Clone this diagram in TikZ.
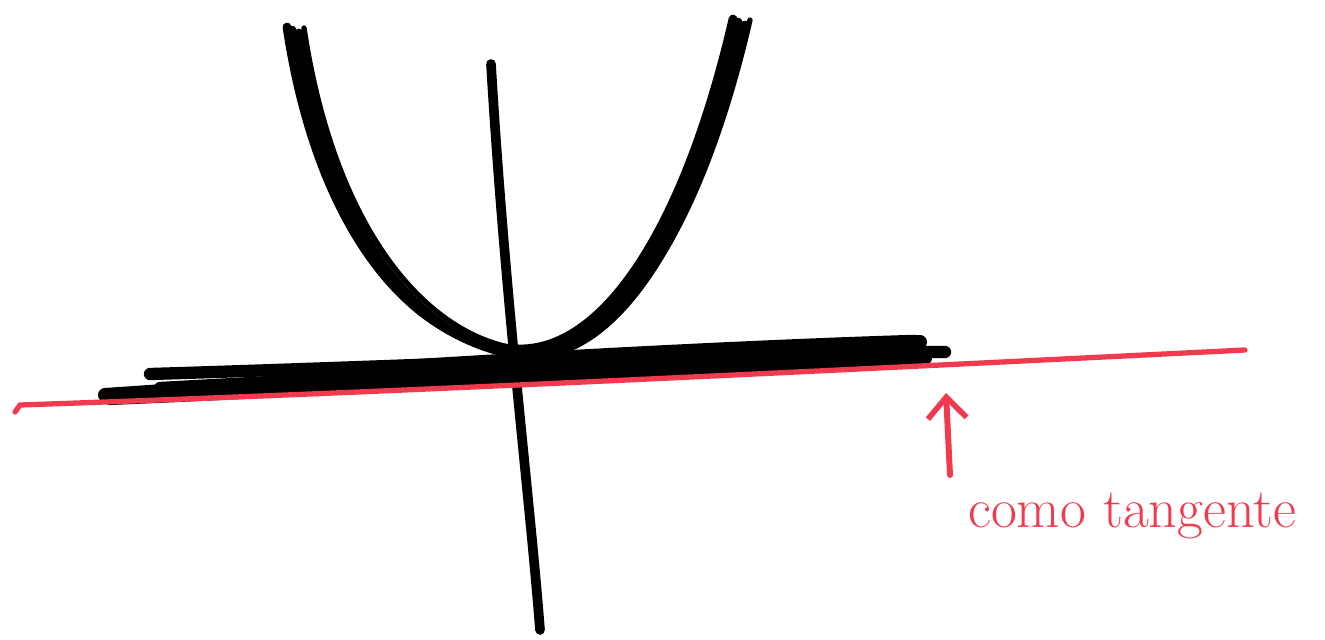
\documentclass[tikz,border=0pt]{standalone}
\usepackage{tikz}
\usepackage{xcolor}
\usetikzlibrary{arrows.meta}
\definecolor{penred}{RGB}{240,58,78}
\newcommand{\bowl}[2]% shift x, shift y
{(292+#1,30+#2) .. controls (325+#1,250+#2) and (430+#1,352+#2) .. (525+#1,352+#2)
 .. controls (610+#1,352+#2) and (690+#1,230+#2) .. (738+#1,22+#2)
}

\begin{document}
\begin{tikzpicture}[x=0.02cm,y=-0.02cm,
  ink/.style={line width=5pt,line cap=round,black},
  redpen/.style={line width=3.4pt,line cap=round,penred}]
\useasboundingbox (0,0) rectangle (1325,639);

% parabola, several strokes
\draw[ink] \bowl{0}{0};
\draw[ink] \bowl{7}{3};
\draw[ink] \bowl{-5}{-3};
\draw[ink,line width=3pt] \bowl{12}{-2};

% vertical axis
\draw[line width=5.5pt,line cap=round] (491,64) .. controls (505,300) and (530,500) .. (540,630);

% horizontal band
\draw[ink,line width=8pt] (105,395) .. controls (400,375) and (700,355) .. (920,342);
\draw[ink,line width=7pt] (150,374) .. controls (450,365) and (700,352) .. (945,352);
\draw[ink,line width=8pt] (110,398) .. controls (420,385) and (700,365) .. (925,358);
\draw[ink,line width=7pt] (160,388) .. controls (450,372) and (700,360) .. (900,350);
\draw[ink,line width=6pt] (300,372) .. controls (500,358) and (750,345) .. (915,340);

% tangent line
\draw[redpen,line width=3pt] (15,412) -- (20,405) .. controls (400,392) and (800,372) .. (1245,350);

% label and arrow
\coordinate (tail) at (950,475);
\coordinate (tip) at (946,393);
\draw[redpen,-{Straight Barb[length=12pt,width=22pt,line width=3.2pt]}] (tail) -- (tip);
\node[anchor=base west,inner sep=0pt,text=penred,font=\fontsize{32}{38}\selectfont] (lbl) at (968,527) {como tangente};
\end{tikzpicture}
\end{document}
